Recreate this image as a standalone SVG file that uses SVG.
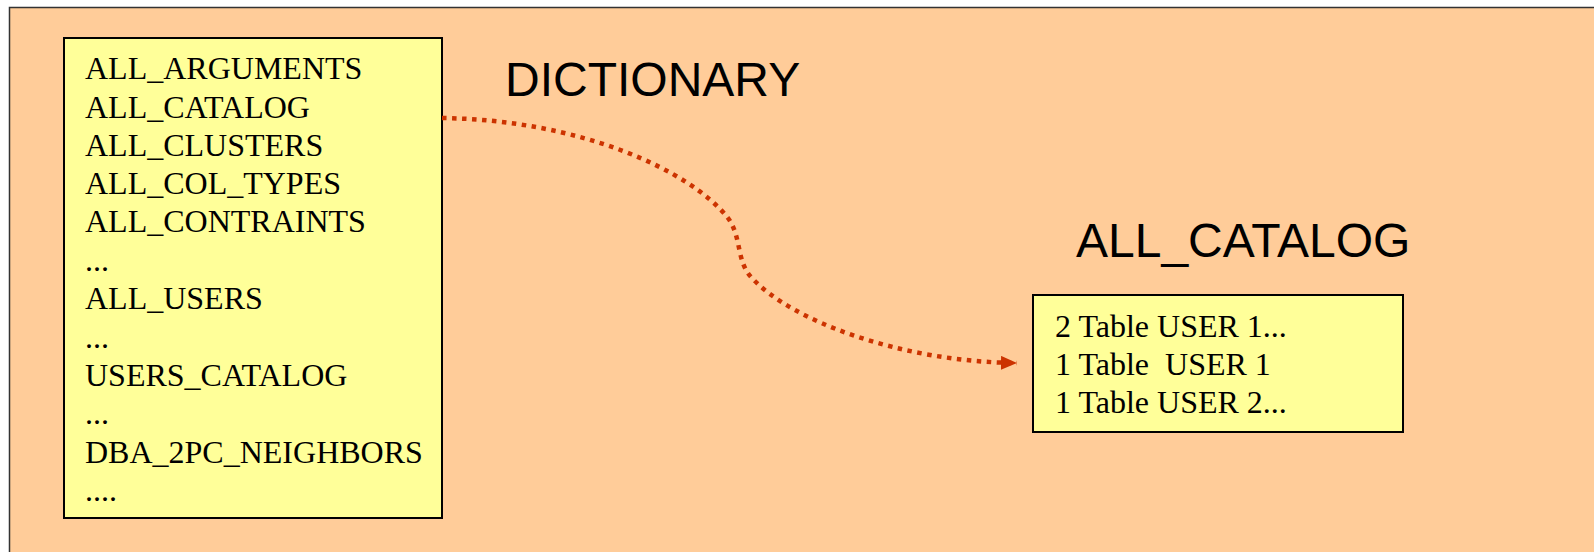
<svg xmlns="http://www.w3.org/2000/svg" width="1594" height="552" viewBox="0 0 1594 552">
<defs>
<style>
.box{fill:#FFFF99;stroke:#000;stroke-width:2}
.t{font-family:"Liberation Serif","Times New Roman",serif;font-size:32px;fill:#000;white-space:pre}
.h{font-family:"Liberation Sans",Arial,sans-serif;font-size:48px;fill:#000}
.conn{fill:none;stroke:#CC3300;stroke-width:4.5;stroke-dasharray:4.5 5.5}
</style>
<marker id="arr" markerUnits="userSpaceOnUse" markerWidth="18" markerHeight="16" refX="16" refY="7" orient="auto">
<path d="M0,0 L16,7 L0,14 Z" fill="#CC3300"/>
</marker>
</defs>
<rect x="0" y="0" width="1594" height="552" fill="#FFFFFF"/>
<rect x="9.5" y="7.5" width="1600" height="560" fill="#FFCC99" stroke="#333" stroke-width="1.5"/>
<g id="label-dictionary"><text class="h" x="505" y="96">DICTIONARY</text></g>
<g id="label-allcatalog"><text class="h" x="1076" y="257">ALL_CATALOG</text></g>
<g id="dictionary-list">
<rect class="box" x="64" y="38" width="378" height="480"/>
<text class="t" x="85" y="79">ALL_ARGUMENTS</text>
<text class="t" x="85" y="118">ALL_CATALOG</text>
<text class="t" x="85" y="156">ALL_CLUSTERS</text>
<text class="t" x="85" y="194">ALL_COL_TYPES</text>
<text class="t" x="85" y="232">ALL_CONTRAINTS</text>
<text class="t" x="85" y="271">...</text>
<text class="t" x="85" y="309">ALL_USERS</text>
<text class="t" x="85" y="348">...</text>
<text class="t" x="85" y="386">USERS_CATALOG</text>
<text class="t" x="85" y="424">...</text>
<text class="t" x="85" y="463">DBA_2PC_NEIGHBORS</text>
<text class="t" x="85" y="501">....</text>
</g>
<g id="catalog-box">
<rect class="box" x="1033" y="295" width="370" height="137"/>
<text class="t" x="1055" y="337">2 Table USER 1...</text>
<text class="t" x="1055" y="375">1 Table  USER 1</text>
<text class="t" x="1055" y="413">1 Table USER 2...</text>
</g>
<g id="connectors">
<path class="conn" d="M442,118 C580,120 690,170 728,218 C742,237 736,262 752,278 C790,320 900,362 1017,363" marker-end="url(#arr)"/>
</g>
</svg>
